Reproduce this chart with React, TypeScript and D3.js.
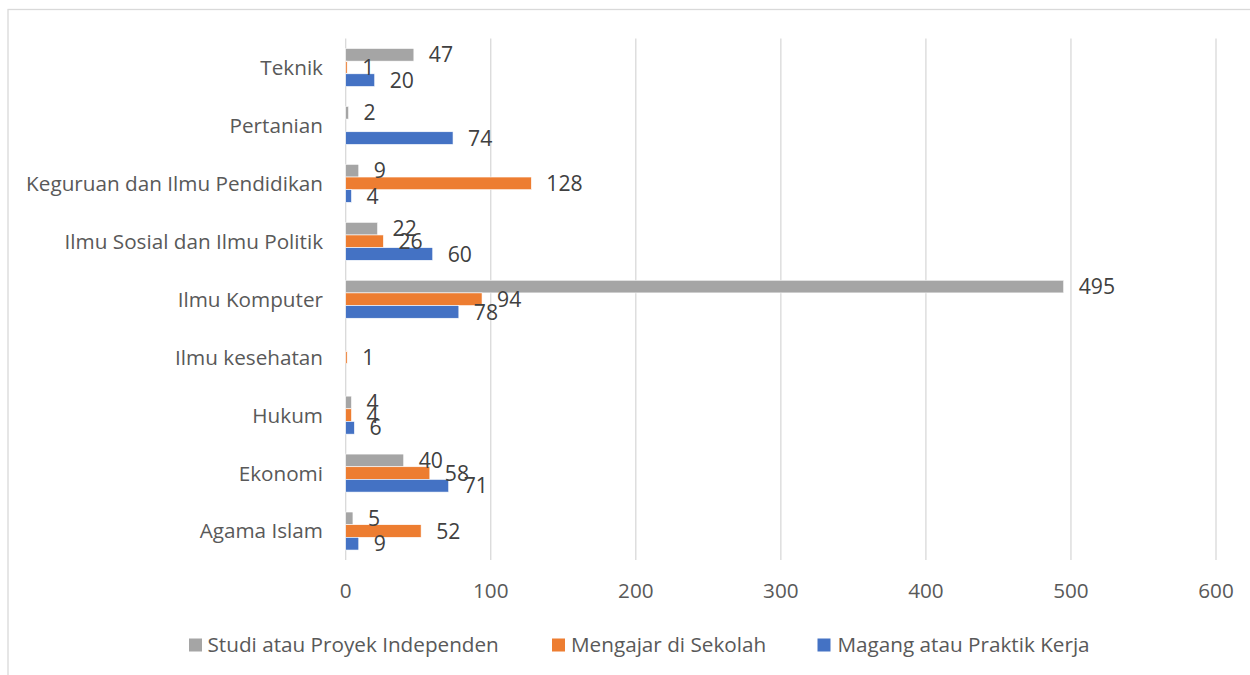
import React from "react";
import * as d3 from "d3";

const categories = [
  "Teknik",
  "Pertanian",
  "Keguruan dan Ilmu Pendidikan",
  "Ilmu Sosial dan Ilmu Politik",
  "Ilmu Komputer",
  "Ilmu kesehatan",
  "Hukum",
  "Ekonomi",
  "Agama Islam",
];

const seriesNames = [
  "Studi atau Proyek Independen",
  "Mengajar di Sekolah",
  "Magang atau Praktik Kerja",
];

const studiValues: (number | null)[] = [47, 2, 9, 22, 495, null, 4, 40, 5];
const mengajarValues: (number | null)[] = [1, null, 128, 26, 94, 1, 4, 58, 52];
const magangValues: (number | null)[] = [20, 74, 4, 60, 78, null, 6, 71, 9];

const xTicks = [0, 100, 200, 300, 400, 500, 600];

const colors = ["#A5A5A5", "#ED7D31", "#4472C4"];

const W = 1250;
const H = 675;
const FONT = "'Open Sans', sans-serif";
const FS = 20.7;
const FS_LABEL = 21.2;

export default function App() {
  const seriesValues = [studiValues, mengajarValues, magangValues];
  const x = d3.scaleLinear().domain([0, 600]).range([345.7, 1216]);
  const y = d3.scaleBand<string>().domain(categories).range([38.5, 560]).padding(0);
  const bw = y.bandwidth();
  const r = 0.656;
  const sub = d3
    .scaleBand<string>()
    .domain(seriesNames)
    .range([(bw * (1 - r)) / 2, (bw * (1 + r)) / 2])
    .padding(0);
  const bh = sub.bandwidth();

  const legendItems = [
    { name: seriesNames[0], sq: 189, tx: 207.5 },
    { name: seriesNames[1], sq: 552, tx: 571 },
    { name: seriesNames[2], sq: 817.5, tx: 837.5 },
  ];

  return (
    <svg
      width={W}
      height={H}
      style={{ position: "absolute", left: 0, top: 0, background: "#fff" }}
      fontFamily={FONT}
    >
      <rect x={0} y={0} width={W} height={H} fill="#fff" />
      {/* outer chart border */}
      <rect x={8} y={9.5} width={W + 20} height={H + 20} fill="none" stroke="#D9D9D9" strokeWidth={1.3} />

      {/* gridlines */}
      {xTicks.map((t) => (
        <line key={"g" + t} x1={x(t)} x2={x(t)} y1={38.5} y2={560} stroke="#D9D9D9" strokeWidth={1.3} />
      ))}

      {/* x tick labels */}
      {xTicks.map((t) => (
        <text key={"t" + t} x={x(t)} y={590.5} dy="0.36em" textAnchor="middle" fontSize={FS} fill="#595959">
          {t}
        </text>
      ))}

      {/* category labels */}
      {categories.map((c) => (
        <text
          key={"c" + c}
          x={323}
          y={(y(c) ?? 0) + bw / 2}
          dy="0.36em"
          textAnchor="end"
          fontSize={FS}
          fill="#595959"
        >
          {c}
        </text>
      ))}

      {/* bars */}
      {seriesValues.map((vals, si) =>
        vals.map((v, ci) => {
          if (v === null) return null;
          const cy = (y(categories[ci]) ?? 0) + (sub(seriesNames[si]) ?? 0);
          return (
            <rect
              key={`b${si}-${ci}`}
              x={x(0)}
              y={cy}
              width={x(v) - x(0)}
              height={bh}
              fill={colors[si]}
              stroke="#fff"
              strokeWidth={0.6}
            />
          );
        })
      )}

      {/* data labels */}
      {seriesValues.map((vals, si) =>
        vals.map((v, ci) => {
          if (v === null) return null;
          const cy = (y(categories[ci]) ?? 0) + (sub(seriesNames[si]) ?? 0) + bh / 2;
          return (
            <text
              key={`l${si}-${ci}`}
              x={x(v) + 15}
              y={cy}
              dy="0.36em"
              fontSize={FS_LABEL}
              fill="#404040"
            >
              {v}
            </text>
          );
        })
      )}

      {/* legend */}
      {legendItems.map((it, i) => (
        <g key={"lg" + i}>
          <rect x={it.sq} y={638.5} width={13} height={13} fill={colors[i]} />
          <text x={it.tx} y={644.5} dy="0.36em" fontSize={FS} fill="#595959">
            {it.name}
          </text>
        </g>
      ))}
    </svg>
  );
}
